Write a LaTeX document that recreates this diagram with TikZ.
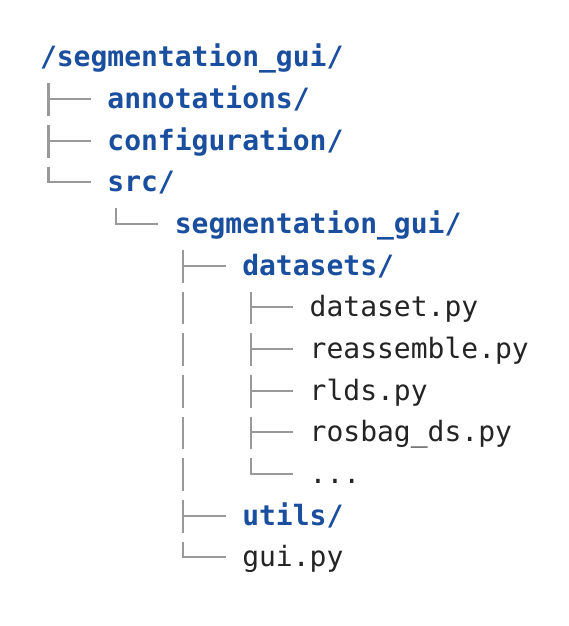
\documentclass[tikz,border=0pt]{standalone}
\usepackage{fontspec}
\setmonofont{DejaVu Sans Mono}
\usetikzlibrary{calc}
\definecolor{dirblue}{HTML}{1A4E9E}
\definecolor{filegray}{HTML}{242424}
\definecolor{treegray}{HTML}{999999}
\tikzset{
  entry/.style={anchor=base west, inner sep=0pt, outer sep=0pt, font=\fontsize{28}{34}\selectfont\ttfamily},
  dir/.style={entry, text=dirblue, font=\fontsize{28}{34}\selectfont\ttfamily\bfseries},
  file/.style={entry, text=filegray},
  tree/.style={draw=treegray, line width=2.2pt},
}
% tee branch: parent, child
\newcommand\teeBranch[2]{%
  \draw[tree] ($(#1.base west |- #2.base)+(8.43,25.2)$) -- ++(0,-32.7);
  \draw[tree] ($(#1.base west |- #2.base)+(8.43,9.5)$) -- ++(42.5,0);}
% last branch: parent, child
\newcommand\lastBranch[2]{%
  \draw[tree] ($(#1.base west |- #2.base)+(8.43,25.2)$) -- ++(0,-15.7) -- ++(42.5,0);}
% pass-through vertical: ancestor, row node
\newcommand\passBranch[2]{%
  \draw[tree] ($(#1.base west |- #2.base)+(8.43,25.2)$) -- ++(0,-32.7);}
\begin{document}
\begin{tikzpicture}[x=1pt,y=1pt]
\useasboundingbox[fill=white] (0,0) rectangle (568,-626);
\node[dir]  (root)   at (40,-66.8)      {/segmentation\_gui/};
\node[dir]  (annot)  at (107.42,-108.47) {annotations/};
\node[dir]  (config) at (107.42,-150.14) {configuration/};
\node[dir]  (src)    at (107.42,-191.81) {src/};
\node[dir]  (seg)    at (174.85,-233.48) {segmentation\_gui/};
\node[dir]  (dsets)  at (242.27,-275.15) {datasets/};
\node[file] (dset)   at (309.70,-316.82) {dataset.py};
\node[file] (reasm)  at (309.70,-358.49) {reassemble.py};
\node[file] (rlds)   at (309.70,-400.16) {rlds.py};
\node[file] (rosbag) at (309.70,-441.83) {rosbag\_ds.py};
\node[file] (dots)   at (309.70,-483.50) {...};
\node[dir]  (utils)  at (242.27,-525.17) {utils/};
\node[file] (gui)    at (242.27,-566.84) {gui.py};
\teeBranch{root}{annot}
\teeBranch{root}{config}
\lastBranch{root}{src}
\lastBranch{src}{seg}
\teeBranch{seg}{dsets}
\teeBranch{dsets}{dset}
\teeBranch{dsets}{reasm}
\teeBranch{dsets}{rlds}
\teeBranch{dsets}{rosbag}
\lastBranch{dsets}{dots}
\passBranch{seg}{dset}
\passBranch{seg}{reasm}
\passBranch{seg}{rlds}
\passBranch{seg}{rosbag}
\passBranch{seg}{dots}
\teeBranch{seg}{utils}
\lastBranch{seg}{gui}
\end{tikzpicture}
\end{document}
